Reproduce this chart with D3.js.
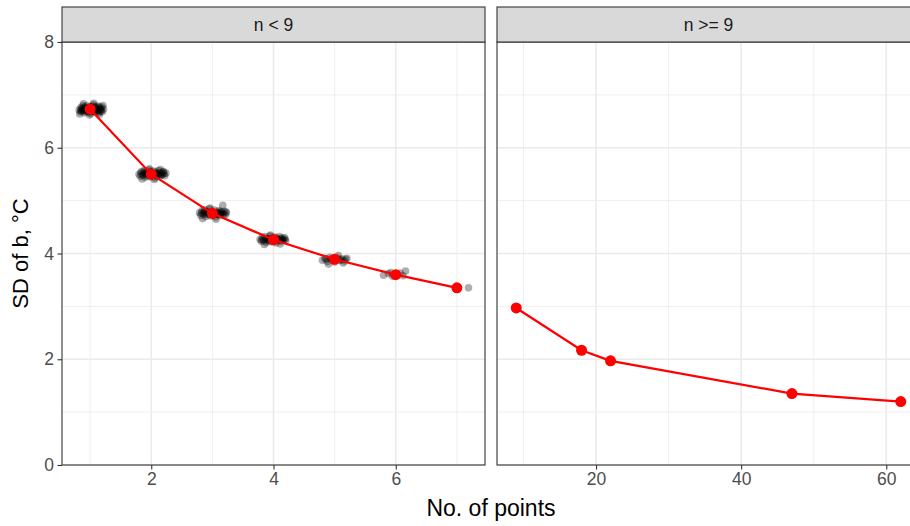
<!DOCTYPE html>
<html>
<head>
<meta charset="utf-8">
<script src="https://cdn.jsdelivr.net/npm/d3@7"></script>
<style>
  body { margin: 0; background: #fff; }
  text { font-family: "Liberation Sans", Arial, sans-serif; }
</style>
</head>
<body>
<svg width="910" height="526"></svg>
<script>
// mean SD by number of points, two facets
const nLow = [1, 2, 3, 4, 5, 6, 7];
const sdLow = [6.73, 5.50, 4.76, 4.26, 3.89, 3.60, 3.35];
const nHigh = [9, 18, 22, 47, 62];
const sdHigh = [2.97, 2.17, 1.97, 1.35, 1.20];

// individual simulated SDs (jittered), n < 9 facet
const simPoints = [
  [0.82,6.72],[0.84,6.68],[0.85,6.76],[0.87,6.70],[0.88,6.79],[0.90,6.66],[0.91,6.74],[0.93,6.71],
  [0.94,6.80],[0.95,6.67],[0.97,6.75],[0.98,6.70],[1.00,6.78],[1.01,6.65],[1.03,6.73],[1.04,6.69],
  [1.05,6.81],[1.07,6.72],[1.08,6.67],[1.10,6.76],[1.11,6.70],[1.13,6.79],[1.14,6.66],[1.16,6.74],
  [1.17,6.71],[1.19,6.77],[1.20,6.68],[1.22,6.73],[0.83,6.64],[0.89,6.83],[0.99,6.62],[1.06,6.84],
  [1.15,6.63],[1.21,6.80],[0.86,6.73],[1.02,6.76],[1.12,6.73],[0.96,6.72],
  [0.85,6.70],[0.88,6.74],[0.92,6.77],[0.95,6.69],[0.99,6.74],[1.03,6.78],[1.06,6.70],[1.09,6.73],
  [1.12,6.69],[1.15,6.77],[1.18,6.73],[0.90,6.70],[1.00,6.68],[1.08,6.78],[1.18,6.69],[0.93,6.75],

  [1.80,5.50],[1.82,5.46],[1.84,5.55],[1.86,5.48],[1.88,5.57],[1.90,5.44],[1.92,5.52],[1.94,5.49],
  [1.96,5.58],[1.98,5.45],[2.00,5.53],[2.02,5.47],[2.04,5.56],[2.06,5.43],[2.08,5.51],[2.10,5.48],
  [2.12,5.57],[2.14,5.46],[2.16,5.53],[2.18,5.50],[2.20,5.55],[2.22,5.47],[2.24,5.52],[1.85,5.41],
  [1.97,5.60],[2.05,5.40],[2.15,5.59],[1.91,5.53],[2.11,5.52],[2.01,5.50],
  [1.83,5.52],[1.87,5.50],[1.93,5.47],[1.99,5.55],[2.03,5.51],[2.07,5.54],[2.13,5.50],[2.17,5.48],
  [2.21,5.51],[1.89,5.54],[1.95,5.52],[2.09,5.46],[2.19,5.54],[2.00,5.48],

  [2.79,4.77],[2.81,4.72],[2.83,4.81],[2.85,4.74],[2.87,4.83],[2.89,4.70],[2.91,4.78],[2.93,4.75],
  [2.95,4.84],[2.97,4.71],[2.99,4.79],[3.01,4.73],[3.03,4.82],[3.05,4.69],[3.07,4.77],[3.09,4.74],
  [3.11,4.81],[3.13,4.72],[3.15,4.79],[3.17,4.76],[3.19,4.80],[3.21,4.73],[3.23,4.77],[3.17,4.91],
  [2.84,4.66],[2.96,4.86],[3.06,4.65],[2.92,4.79],[3.12,4.77],
  [2.82,4.76],[2.86,4.78],[2.90,4.74],[2.94,4.77],[2.98,4.75],[3.02,4.78],[3.08,4.75],[3.14,4.76],
  [3.18,4.73],[3.22,4.79],[2.88,4.80],[3.04,4.74],[3.10,4.79],[3.00,4.77],

  [3.78,4.27],[3.80,4.23],[3.82,4.30],[3.84,4.24],[3.86,4.32],[3.88,4.21],[3.90,4.28],[3.92,4.25],
  [3.94,4.33],[3.96,4.22],[3.98,4.29],[4.00,4.24],[4.02,4.31],[4.04,4.20],[4.06,4.27],[4.08,4.25],
  [4.10,4.32],[4.12,4.23],[4.14,4.29],[4.16,4.26],[4.18,4.30],[4.20,4.24],[3.85,4.17],[4.11,4.18],
  [3.95,4.35],
  [3.81,4.26],[3.87,4.27],[3.93,4.28],[3.99,4.26],[4.05,4.29],[4.09,4.27],[4.15,4.25],[4.19,4.27],
  [3.91,4.24],[4.03,4.25],[4.13,4.28],

  [4.80,3.87],[4.84,3.91],[4.88,3.85],[4.92,3.93],[4.96,3.88],[5.00,3.84],[5.04,3.92],[5.08,3.87],
  [5.12,3.90],[5.16,3.86],[5.20,3.91],[4.90,3.80],[5.06,3.96],[5.14,3.82],
  [4.86,3.89],[4.94,3.90],[5.02,3.89],[5.10,3.88],[5.18,3.89],

  [5.80,3.59],[5.88,3.62],[5.95,3.57],[6.02,3.60],[6.07,3.63],[6.12,3.58],[6.16,3.67],[5.92,3.64],

  [7.00,3.36],[7.19,3.35]
];

const yTicks = [0, 2, 4, 6, 8];
const yMinor = [1, 3, 5, 7];
const xTicksLow = [2, 4, 6];
const xMinorLow = [1, 3, 5, 7];
const xTicksHigh = [20, 40, 60];
const xMinorHigh = [10, 30, 50];

const svg = d3.select("svg");

const plotTop = 42, plotBottom = 465;
const y = d3.scaleLinear().domain([0, 8]).range([plotBottom, plotTop]);

const panels = [
  { label: "n < 9", x0: 62, x1: 485, domain: [0.54, 7.46], ticks: xTicksLow, minor: xMinorLow,
    xs: nLow, ys: sdLow, sim: simPoints },
  { label: "n >= 9", x0: 497, x1: 920, domain: [6.35, 64.65], ticks: xTicksHigh, minor: xMinorHigh,
    xs: nHigh, ys: sdHigh, sim: [] }
];

panels.forEach(p => {
  const x = d3.scaleLinear().domain(p.domain).range([p.x0, p.x1]);
  const g = svg.append("g");

  // grid
  g.selectAll("line.ymin").data(yMinor).enter().append("line")
    .attr("x1", p.x0).attr("x2", p.x1).attr("y1", d => y(d)).attr("y2", d => y(d))
    .attr("stroke", "#ebebeb").attr("stroke-width", 0.8);
  g.selectAll("line.xmin").data(p.minor).enter().append("line")
    .attr("x1", d => x(d)).attr("x2", d => x(d)).attr("y1", plotTop).attr("y2", plotBottom)
    .attr("stroke", "#ebebeb").attr("stroke-width", 0.8);
  g.selectAll("line.ymaj").data(yTicks).enter().append("line")
    .attr("x1", p.x0).attr("x2", p.x1).attr("y1", d => y(d)).attr("y2", d => y(d))
    .attr("stroke", "#ebebeb").attr("stroke-width", 1.6);
  g.selectAll("line.xmaj").data(p.ticks).enter().append("line")
    .attr("x1", d => x(d)).attr("x2", d => x(d)).attr("y1", plotTop).attr("y2", plotBottom)
    .attr("stroke", "#ebebeb").attr("stroke-width", 1.6);

  // jittered simulation points
  g.selectAll("circle.sim").data(p.sim).enter().append("circle")
    .attr("cx", d => x(d[0])).attr("cy", d => y(d[1])).attr("r", 3.8)
    .attr("fill", "#000").attr("fill-opacity", 0.32);

  // mean line + points
  const pts = p.xs.map((v, i) => [v, p.ys[i]]);
  g.append("path").datum(pts)
    .attr("d", d3.line().x(d => x(d[0])).y(d => y(d[1])))
    .attr("fill", "none").attr("stroke", "#ff0000").attr("stroke-width", 2.2);
  g.selectAll("circle.mean").data(pts).enter().append("circle")
    .attr("cx", d => x(d[0])).attr("cy", d => y(d[1])).attr("r", 5.5)
    .attr("fill", "#ff0000");

  // panel border
  g.append("rect").attr("x", p.x0).attr("y", plotTop).attr("width", p.x1 - p.x0).attr("height", plotBottom - plotTop)
    .attr("fill", "none").attr("stroke", "#333333").attr("stroke-width", 1.1);

  // strip
  g.append("rect").attr("x", p.x0).attr("y", 7).attr("width", p.x1 - p.x0).attr("height", plotTop - 7)
    .attr("fill", "#d9d9d9").attr("stroke", "#333333").attr("stroke-width", 1.1);
  g.append("text").attr("x", (p.x0 + p.x1) / 2).attr("y", 30.5)
    .attr("text-anchor", "middle").attr("font-size", 17.5).attr("fill", "#1a1a1a")
    .text(p.label);

  // x axis
  const xa = g.append("g").attr("transform", `translate(0,${plotBottom})`)
    .call(d3.axisBottom(x).tickValues(p.ticks).tickFormat(d3.format("d")).tickSize(4.5).tickPadding(3.5));
  xa.select(".domain").remove();
  xa.selectAll("line").attr("stroke", "#333333").attr("stroke-width", 1.1);
  xa.selectAll("text").attr("font-size", 17.5).attr("fill", "#4d4d4d")
    .attr("font-family", "Liberation Sans, Arial, sans-serif");
});

// y axis
const ya = svg.append("g").attr("transform", `translate(62,0)`)
  .call(d3.axisLeft(y).tickValues(yTicks).tickFormat(d3.format("d")).tickSize(4.5).tickPadding(3.5));
ya.select(".domain").remove();
ya.selectAll("line").attr("stroke", "#333333").attr("stroke-width", 1.1);
ya.selectAll("text").attr("font-size", 17.5).attr("fill", "#4d4d4d")
  .attr("font-family", "Liberation Sans, Arial, sans-serif");

// titles
svg.append("text").attr("x", 491).attr("y", 516).attr("text-anchor", "middle")
  .attr("font-size", 23).attr("fill", "#000").text("No. of points");
svg.append("text").attr("transform", `translate(28,${(plotTop + plotBottom) / 2}) rotate(-90)`)
  .attr("text-anchor", "middle").attr("font-size", 22).attr("fill", "#000").text("SD of b, °C");
</script>
</body>
</html>
